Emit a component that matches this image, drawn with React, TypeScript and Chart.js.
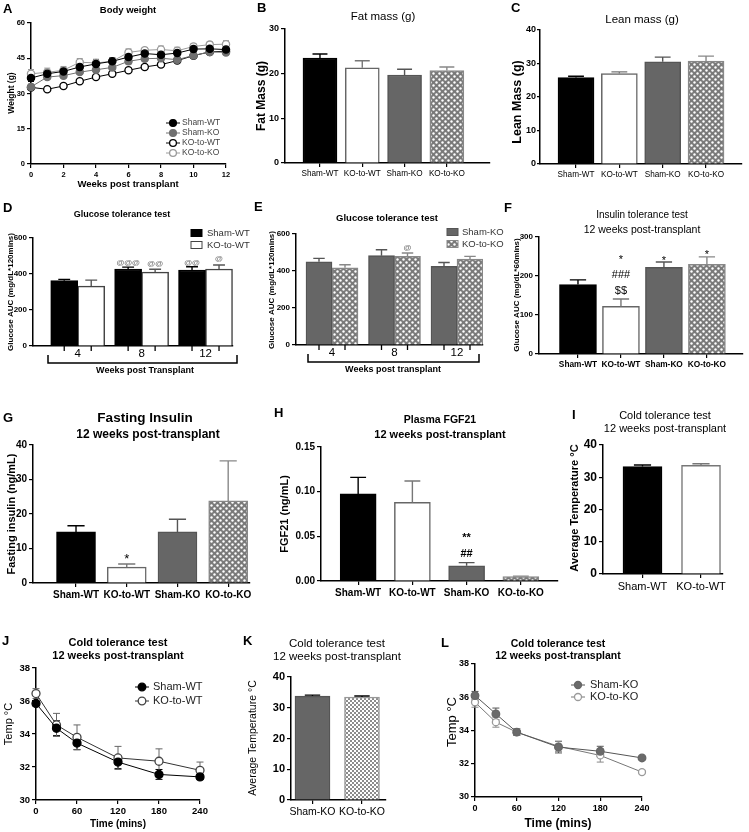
import React, { useEffect, useRef } from "react";
import { Chart, registerables } from "chart.js";

Chart.register(...registerables);

const PW = 749;
const PH = 832;
const SANS = '"Liberation Sans", Arial, Helvetica, sans-serif';
Chart.defaults.font.family = SANS;

// ---------------- data ----------------
const groups4 = ["Sham-WT", "KO-to-WT", "Sham-KO", "KO-to-KO"];
const groupsWT = ["Sham-WT", "KO-to-WT"];
const groupsKO = ["Sham-KO", "KO-to-KO"];

// A  Body weight
const weeks = [0, 1, 2, 3, 4, 5, 6, 7, 8, 9, 10, 11, 12];
const weekTicks = [0, 2, 4, 6, 8, 10, 12];
const weightTicks = [0, 15, 30, 45, 60];
const bwShamWT = [36.6, 38.4, 39.4, 41.3, 42.6, 43.7, 45.5, 47.0, 46.5, 47.2, 48.9, 49.0, 48.7];
const bwShamWTErr = [1.5, 1.4, 1.3, 1.4, 1.8, 1.5, 1.5, 1.4, 1.4, 1.3, 1.2, 1.2, 1.2];
const bwShamKO = [32.8, 37.0, 37.6, 39.1, 40.1, 41.1, 43.7, 44.8, 45.0, 44.4, 46.2, 47.7, 47.5];
const bwShamKOErr = [1.2, 1.0, 1.0, 1.0, 1.0, 1.1, 1.2, 1.1, 1.1, 1.0, 1.0, 1.0, 1.0];
const bwKOtoWT = [32.6, 31.8, 33.2, 35.2, 37.0, 38.4, 39.9, 41.3, 42.3, 44.0, 46.1, 47.7, 48.0];
const bwKOtoWTErr = [0.9, 0.8, 0.8, 0.8, 0.8, 0.8, 0.9, 0.9, 0.9, 0.9, 0.9, 0.9, 0.9];
const bwKOtoKO = [38.4, 39.0, 39.9, 43.3, 43.0, 43.7, 47.5, 48.4, 48.7, 48.2, 50.0, 50.8, 51.0];
const bwKOtoKOErr = [1.8, 1.8, 1.6, 1.6, 1.6, 1.5, 1.5, 1.2, 1.5, 1.5, 1.2, 1.2, 1.5];

// B  Fat mass
const fatTicks = [0, 10, 20, 30];
const fatMass = [23.5, 21.3, 19.7, 20.7];
const fatMassErr = [0.9, 1.6, 1.3, 0.8];

// C  Lean mass
const leanTicks = [0, 10, 20, 30, 40];
const leanMass = [25.8, 27.0, 30.5, 30.7];
const leanMassErr = [0.4, 0.5, 1.4, 1.5];

// D / E  Glucose tolerance test
const gttWeeks = ["4", "8", "12"];
const gttTicks = [0, 200, 400, 600];
const gttShamWT = [363, 428, 422];
const gttShamWTErr = [7, 10, 18];
const gttKOtoWT = [333, 410, 428];
const gttKOtoWTErr = [33, 16, 22];
const gttShamKO = [450, 483, 425];
const gttShamKOErr = [18, 32, 21];
const gttKOtoKO = [417, 479, 464];
const gttKOtoKOErr = [17, 18, 15];

// F  Insulin tolerance test
const ittTicks = [0, 100, 200, 300];
const itt = [178, 122, 222, 230];
const ittErr = [12, 19, 14, 19];

// G  Fasting insulin
const insTicks = [0, 10, 20, 30, 40];
const insulin = [14.8, 4.6, 14.8, 23.8];
const insulinErr = [1.8, 0.9, 3.7, 11.6];

// H  Plasma FGF21
const fgfTicks = [0, 0.05, 0.1, 0.15];
const fgf21 = [0.0975, 0.088, 0.017, 0.005];
const fgf21Err = [0.0185, 0.024, 0.0036, 0.0005];

// I / K  Average temperature
const avgTicks = [0, 10, 20, 30, 40];
const avgTempWT = [33.3, 33.7];
const avgTempWTErr = [0.5, 0.5];
const avgTempKO = [33.8, 33.5];
const avgTempKOErr = [0.3, 0.3];

// J / L  Cold tolerance time course
const ctMins = [0, 30, 60, 120, 180, 240];
const minTicks = [0, 60, 120, 180, 240];
const tempTicks = [30, 32, 34, 36, 38];
const ctShamWT = [35.85, 34.35, 33.45, 32.3, 31.55, 31.4];
const ctShamWTErr = [0.15, 0.45, 0.4, 0.4, 0.3, 0.15];
const ctKOtoWT = [36.45, 34.55, 33.8, 32.55, 32.35, 31.8];
const ctKOtoWTErr = [0.3, 0.7, 0.75, 0.7, 0.75, 0.5];
const ctShamKO = [36.1, 35.0, 33.9, 33.0, 32.75, 32.35];
const ctShamKOErr = [0.25, 0.35, 0.2, 0.35, 0.3, 0.1];
const ctKOtoKO = [35.7, 34.5, 33.9, 33.05, 32.5, 31.5];
const ctKOtoKOErr = [0.3, 0.3, 0.2, 0.3, 0.4, 0.1];

// ---------------- helpers ----------------
type Txt = { t: string; x: number; y: number; s: number; b?: boolean; f?: string; c?: string; r?: boolean; a?: CanvasTextAlign };
type Ann = { ds: number; i: number; t: string; dy: number; s: number; b?: boolean; c?: string };
type Legend = { kind: "line" | "box"; x: number; tx: number; y: number[]; s: number; c: string; r?: number };
type Decor = {
  texts: Txt[];
  anns?: Ann[];
  cap?: number;
  barTicks?: boolean;
  bracket?: { x1: number; x2: number; y: number; h: number };
  legend?: Legend;
};

const fontStr = (s: number, b?: boolean, f?: string) => `${b ? "bold " : ""}${s}px ${f || SANS}`;
const tf = (size: number, bold: boolean, family = SANS) => ({ size, weight: bold ? "bold" : "normal", family });

function makeDecor(d: Decor) {
  return {
    id: "decor",
    beforeDatasetsDraw(chart: any) {
      if (chart.config.type !== "line") return;
      const ctx = chart.ctx;
      const ys = chart.scales.y;
      chart.data.datasets.forEach((ds: any, di: number) => {
        const errs = ds.errors;
        if (!errs) return;
        const meta = chart.getDatasetMeta(di);
        ctx.save();
        ctx.strokeStyle = ds.errColor || ds.borderColor;
        ctx.lineWidth = 1;
        meta.data.forEach((pt: any, j: number) => {
          const v = ds.data[j].y;
          const e = errs[j];
          const y1 = ys.getPixelForValue(v + e);
          const y2 = ys.getPixelForValue(v - e);
          const h = d.cap ?? 3;
          ctx.beginPath();
          ctx.moveTo(pt.x, y1);
          ctx.lineTo(pt.x, y2);
          ctx.moveTo(pt.x - h, y1);
          ctx.lineTo(pt.x + h, y1);
          ctx.moveTo(pt.x - h, y2);
          ctx.lineTo(pt.x + h, y2);
          ctx.stroke();
        });
        ctx.restore();
      });
    },
    afterDatasetsDraw(chart: any) {
      if (chart.config.type !== "bar") return;
      const ctx = chart.ctx;
      const ys = chart.scales.y;
      const area = chart.chartArea;
      chart.data.datasets.forEach((ds: any, di: number) => {
        const meta = chart.getDatasetMeta(di);
        const errs = ds.errors;
        meta.data.forEach((el: any, j: number) => {
          if (errs) {
            const v = ds.data[j].y;
            const top = ys.getPixelForValue(v + errs[j]);
            const col = Array.isArray(ds.errColor) ? ds.errColor[j] : ds.errColor || "#000";
            const h = el.width * 0.22;
            ctx.save();
            ctx.strokeStyle = col;
            ctx.lineWidth = 1.4;
            ctx.beginPath();
            ctx.moveTo(el.x, el.y);
            ctx.lineTo(el.x, top);
            ctx.moveTo(el.x - h, top);
            ctx.lineTo(el.x + h, top);
            ctx.stroke();
            ctx.restore();
          }
          if (d.barTicks) {
            ctx.save();
            ctx.strokeStyle = "#000";
            ctx.lineWidth = 1.3;
            ctx.beginPath();
            ctx.moveTo(el.x, area.bottom);
            ctx.lineTo(el.x, area.bottom + 5);
            ctx.stroke();
            ctx.restore();
          }
        });
      });
    },
    afterDraw(chart: any) {
      const ctx = chart.ctx;
      const ys = chart.scales.y;
      ctx.save();
      d.texts.forEach((t) => {
        ctx.save();
        ctx.font = fontStr(t.s, t.b, t.f);
        ctx.fillStyle = t.c || "#000";
        ctx.textAlign = t.a || "center";
        ctx.textBaseline = "middle";
        if (t.r) {
          ctx.translate(t.x, t.y);
          ctx.rotate(-Math.PI / 2);
          ctx.fillText(t.t, 0, 0);
        } else {
          ctx.fillText(t.t, t.x, t.y);
        }
        ctx.restore();
      });
      (d.anns || []).forEach((a) => {
        const ds: any = chart.data.datasets[a.ds];
        const el: any = chart.getDatasetMeta(a.ds).data[a.i];
        const v = ds.data[a.i].y;
        const e = ds.errors ? ds.errors[a.i] : 0;
        const top = ys.getPixelForValue(v + e);
        ctx.font = fontStr(a.s, a.b);
        ctx.fillStyle = a.c || "#000";
        ctx.textAlign = "center";
        ctx.textBaseline = "alphabetic";
        ctx.fillText(a.t, el.x, top - a.dy);
      });
      if (d.bracket) {
        const b = d.bracket;
        ctx.strokeStyle = "#000";
        ctx.lineWidth = 1.5;
        ctx.beginPath();
        ctx.moveTo(b.x1, b.y - b.h);
        ctx.lineTo(b.x1, b.y);
        ctx.lineTo(b.x2, b.y);
        ctx.lineTo(b.x2, b.y - b.h);
        ctx.stroke();
      }
      if (d.legend) {
        const L = d.legend;
        chart.data.datasets.forEach((ds: any, i: number) => {
          const y = L.y[i];
          if (y === undefined) return;
          if (L.kind === "line") {
            ctx.strokeStyle = ds.borderColor;
            ctx.lineWidth = 1;
            ctx.beginPath();
            ctx.moveTo(L.x - 7, y);
            ctx.lineTo(L.x + 7, y);
            ctx.stroke();
            ctx.beginPath();
            ctx.arc(L.x, y, L.r || 3.5, 0, Math.PI * 2);
            ctx.fillStyle = ds.pointBackgroundColor;
            ctx.fill();
            ctx.strokeStyle = ds.pointBorderColor;
            ctx.lineWidth = 1.3;
            ctx.stroke();
          } else {
            const bg = Array.isArray(ds.backgroundColor) ? ds.backgroundColor[0] : ds.backgroundColor;
            const bc = Array.isArray(ds.borderColor) ? ds.borderColor[0] : ds.borderColor;
            ctx.fillStyle = bg;
            ctx.fillRect(L.x, y - 3.5, 11, 7);
            ctx.strokeStyle = bc;
            ctx.lineWidth = 1;
            ctx.strokeRect(L.x, y - 3.5, 11, 7);
          }
          ctx.font = fontStr(L.s);
          ctx.fillStyle = L.c;
          ctx.textAlign = "left";
          ctx.textBaseline = "middle";
          ctx.fillText(ds.label, L.tx, y);
        });
      }
      ctx.restore();
    },
  };
}

function yAx(ticks: number[], size: number, bold = true, fam = SANS, fmt?: (v: number) => string, tickLength = 4, pad = 2) {
  return {
    type: "linear",
    position: "left",
    min: ticks[0],
    max: ticks[ticks.length - 1],
    afterBuildTicks: (s: any) => {
      s.ticks = ticks.map((v) => ({ value: v }));
    },
    ticks: {
      font: tf(size, bold, fam),
      color: "#000",
      padding: pad,
      autoSkip: false,
      callback: (v: any) => (fmt ? fmt(Number(v)) : String(v)),
    },
    grid: { drawOnChartArea: false, drawTicks: true, tickLength, color: "#000", lineWidth: 1.2 },
    border: { display: true, color: "#000", width: 1.5 },
  };
}

function xNum(ticks: number[], size: number, bold = true) {
  return {
    type: "linear",
    position: "bottom",
    min: ticks[0],
    max: ticks[ticks.length - 1],
    offset: false,
    afterBuildTicks: (s: any) => {
      s.ticks = ticks.map((v) => ({ value: v }));
    },
    ticks: { font: tf(size, bold), color: "#000", padding: 2, autoSkip: false, maxRotation: 0, minRotation: 0 },
    grid: { drawOnChartArea: false, drawTicks: true, tickLength: 4, color: "#000", lineWidth: 1.2, offset: false },
    border: { display: true, color: "#000", width: 1.5 },
  };
}

function xCat(
  labels: string[],
  min: number,
  max: number,
  size: number,
  bold: boolean,
  fam = SANS,
  tickColor = "#000",
  tickLength = 4,
  pad = 2
) {
  return {
    type: "linear",
    position: "bottom",
    min,
    max,
    offset: false,
    afterBuildTicks: (s: any) => {
      s.ticks = labels.map((_, i) => ({ value: i + 1 }));
    },
    ticks: {
      font: tf(size, bold, fam),
      color: "#000",
      padding: pad,
      autoSkip: false,
      maxRotation: 0,
      minRotation: 0,
      callback: (v: any) => labels[Math.round(Number(v)) - 1] ?? "",
    },
    grid: { drawOnChartArea: false, drawTicks: true, tickLength, color: tickColor, lineWidth: 1.2, offset: false },
    border: { display: true, color: "#000", width: 1.5 },
  };
}

// area = [left, top, right, bottom] of the plot box on the page
function opts(area: number[], x: any, y: any) {
  const [L, T, R, B] = area;
  x.afterFit = (s: any) => {
    s.height = PH - B;
  };
  y.afterFit = (s: any) => {
    s.width = L;
  };
  return {
    responsive: false,
    maintainAspectRatio: false,
    animation: false,
    events: [],
    layout: { padding: { left: 0, top: T, right: PW - R, bottom: 0 } },
    plugins: { legend: { display: false }, tooltip: { enabled: false }, title: { display: false } },
    scales: { x, y },
  };
}

function lineDs(label: string, xs: number[], ys: number[], errs: number[], color: string, fill: string, pborder: string, r: number, errColor?: string) {
  return {
    label,
    data: xs.map((x, i) => ({ x, y: ys[i] })),
    borderColor: color,
    borderWidth: 1,
    pointRadius: r,
    pointBackgroundColor: fill,
    pointBorderColor: pborder,
    pointBorderWidth: 1.3,
    tension: 0,
    clip: false,
    errors: errs,
    errColor: errColor || color,
  };
}

function barDs(label: string, cats: string[], vals: number[], errs: number[], bg: any, border: any, errColor: any, thickness: number) {
  return {
    label,
    data: cats.map((_, i) => ({ x: i + 1, y: vals[i] })),
    backgroundColor: bg,
    borderColor: border,
    borderWidth: 1.5,
    barThickness: thickness,
    errors: errs,
    errColor,
  };
}

function dotPattern(bg: string, dot: string) {
  const c = document.createElement("canvas");
  c.width = 6;
  c.height = 6;
  const g = c.getContext("2d")!;
  g.fillStyle = bg;
  g.fillRect(0, 0, 6, 6);
  g.fillStyle = dot;
  [
    [1.5, 1.5],
    [4.5, 4.5],
  ].forEach(([x, y]) => {
    g.beginPath();
    g.arc(x, y, 1.2, 0, Math.PI * 2);
    g.fill();
  });
  return g.createPattern(c, "repeat")!;
}

function checkPattern(a: string, b: string) {
  const c = document.createElement("canvas");
  c.width = 4;
  c.height = 4;
  const g = c.getContext("2d")!;
  g.fillStyle = a;
  g.fillRect(0, 0, 4, 4);
  g.fillStyle = b;
  g.fillRect(0, 0, 2, 2);
  g.fillRect(2, 2, 2, 2);
  return g.createPattern(c, "repeat")!;
}

const letter = (t: string, x: number, y: number): Txt => ({ t, x, y, s: 13, b: true, a: "left" });

function buildConfigs(dots: any, checks: any): any[] {
  const bg4 = ["#000", "#fff", "#666", dots];
  const bd4 = ["#000", "#666", "#555", "#888"];
  const er4 = ["#000", "#777", "#555", "#888"];

  const A = {
    type: "line",
    data: {
      datasets: [
        lineDs("Sham-WT", weeks, bwShamWT, bwShamWTErr, "#000", "#000", "#000", 3.6),
        lineDs("Sham-KO", weeks, bwShamKO, bwShamKOErr, "#707070", "#707070", "#707070", 3.6),
        lineDs("KO-to-WT", weeks, bwKOtoWT, bwKOtoWTErr, "#000", "#fff", "#000", 3.6),
        lineDs("KO-to-KO", weeks, bwKOtoKO, bwKOtoKOErr, "#9a9a9a", "#fff", "#9a9a9a", 3.6),
      ],
    },
    options: opts([31, 23, 226, 164], xNum(weekTicks, 7.5), yAx(weightTicks, 7.5)),
    plugins: [
      makeDecor({
        cap: 3,
        texts: [
          letter("A", 3, 9),
          { t: "Body weight", x: 128, y: 10, s: 9.5, b: true },
          { t: "Weight (g)", x: 12, y: 93, s: 8.5, b: true, r: true },
          { t: "Weeks post transplant", x: 128, y: 184, s: 9.5, b: true },
        ],
        legend: { kind: "line", x: 173, tx: 182, y: [123, 133, 143, 153], s: 8.5, c: "#444", r: 3.4 },
      }),
    ],
  };

  const B = {
    type: "bar",
    data: { datasets: [barDs("Fat mass", groups4, fatMass, fatMassErr, bg4, bd4, er4, 34)] },
    options: opts([285, 29, 490, 163], xCat(groups4, 0.173, 5.02, 8.2, false), yAx(fatTicks, 9, true)),
    plugins: [
      makeDecor({
        texts: [
          letter("B", 257, 8),
          { t: "Fat mass (g)", x: 383, y: 17, s: 11.5 },
          { t: "Fat Mass (g)", x: 262, y: 96, s: 12, b: true, r: true },
        ],
      }),
    ],
  };

  const C = {
    type: "bar",
    data: { datasets: [barDs("Lean mass", groups4, leanMass, leanMassErr, bg4, bd4, er4, 36)] },
    options: opts([540, 30, 742, 164], xCat(groups4, 0.169, 4.83, 8.2, false), yAx(leanTicks, 9, true, SANS, undefined, 3, 1)),
    plugins: [
      makeDecor({
        texts: [
          letter("C", 511, 8),
          { t: "Lean mass (g)", x: 642, y: 20, s: 11.5 },
          { t: "Lean Mass (g)", x: 518, y: 102, s: 12.5, b: true, r: true },
        ],
      }),
    ],
  };

  const D = {
    type: "bar",
    data: {
      datasets: [
        barDs("Sham-WT", gttWeeks, gttShamWT, gttShamWTErr, "#000", "#000", "#000", 27),
        barDs("KO-to-WT", gttWeeks, gttKOtoWT, gttKOtoWTErr, "#fff", "#444", "#555", 27),
      ],
    },
    options: opts([33, 238, 233, 346], xCat(gttWeeks, 0.3, 3.43, 11.5, false, SANS, "rgba(0,0,0,0)", 1, 0), yAx(gttTicks, 8)),
    plugins: [
      makeDecor({
        barTicks: true,
        texts: [
          letter("D", 3, 208),
          { t: "Glucose tolerance test", x: 122, y: 215, s: 9, b: true },
          { t: "Glucose AUC (mg/dL*120mins)", x: 11, y: 292, s: 8, b: true, r: true },
          { t: "Weeks post Transplant", x: 145, y: 371, s: 9, b: true },
        ],
        anns: [
          { ds: 0, i: 1, t: "@@@", dy: 2, s: 8, b: true, c: "#777" },
          { ds: 1, i: 1, t: "@@", dy: 3, s: 8, b: true, c: "#777" },
          { ds: 0, i: 2, t: "@@", dy: 2, s: 8, b: true, c: "#777" },
          { ds: 1, i: 2, t: "@", dy: 4, s: 8, b: true, c: "#777" },
        ],
        bracket: { x1: 48, x2: 237, y: 363, h: 8 },
        legend: { kind: "box", x: 191, tx: 207, y: [233, 245], s: 9.5, c: "#333" },
      }),
    ],
  };

  const E = {
    type: "bar",
    data: {
      datasets: [
        barDs("Sham-KO", gttWeeks, gttShamKO, gttShamKOErr, "#666", "#555", "#555", 26),
        barDs("KO-to-KO", gttWeeks, gttKOtoKO, gttKOtoKOErr, dots, "#888", "#888", 26),
      ],
    },
    options: opts([296, 234, 483, 345], xCat(gttWeeks, 0.424, 3.416, 11.5, false, SANS, "rgba(0,0,0,0)", 1, 0), yAx(gttTicks, 8)),
    plugins: [
      makeDecor({
        barTicks: true,
        texts: [
          letter("E", 254, 207),
          { t: "Glucose tolerance test", x: 387, y: 218, s: 9.5, b: true },
          { t: "Glucose AUC (mg/dL*120mins)", x: 272, y: 290, s: 8, b: true, r: true },
          { t: "Weeks post transplant", x: 393, y: 370, s: 9, b: true },
        ],
        anns: [{ ds: 1, i: 1, t: "@", dy: 3, s: 8, b: true, c: "#777" }],
        bracket: { x1: 308, x2: 479, y: 362, h: 8 },
        legend: { kind: "box", x: 447, tx: 462, y: [232, 244], s: 9.5, c: "#333" },
      }),
    ],
  };

  const F = {
    type: "bar",
    data: { datasets: [barDs("ITT", groups4, itt, ittErr, bg4, bd4, er4, 37)] },
    options: opts([539, 237, 743, 354], xCat(groups4, 0.093, 4.84, 8.3, true), yAx(ittTicks, 8)),
    plugins: [
      makeDecor({
        texts: [
          letter("F", 504, 208),
          { t: "Insulin tolerance test", x: 642, y: 215, s: 10 },
          { t: "12 weeks post-transplant", x: 642, y: 230, s: 10.5 },
          { t: "Glucose AUC (mg/dL*60mins)", x: 517, y: 295, s: 8, b: true, r: true },
        ],
        anns: [
          { ds: 0, i: 1, t: "$$", dy: 5, s: 11 },
          { ds: 0, i: 1, t: "###", dy: 21, s: 11 },
          { ds: 0, i: 1, t: "*", dy: 36, s: 11 },
          { ds: 0, i: 2, t: "*", dy: -2, s: 11 },
          { ds: 0, i: 3, t: "*", dy: -1, s: 11 },
        ],
      }),
    ],
  };

  const G = {
    type: "bar",
    data: { datasets: [barDs("Insulin", groups4, insulin, insulinErr, bg4, bd4, er4, 39)] },
    options: opts([33, 445, 250, 583], xCat(groups4, 0.152, 4.43, 10, true), yAx(insTicks, 10)),
    plugins: [
      makeDecor({
        texts: [
          letter("G", 3, 418),
          { t: "Fasting Insulin", x: 145, y: 418, s: 13.5, b: true },
          { t: "12 weeks post-transplant", x: 148, y: 435, s: 12, b: true },
          { t: "Fasting insulin (ng/mL)", x: 12, y: 514, s: 11, b: true, r: true },
        ],
        anns: [{ ds: 0, i: 1, t: "*", dy: 1.5, s: 13 }],
      }),
    ],
  };

  const H = {
    type: "bar",
    data: { datasets: [barDs("FGF21", groups4, fgf21, fgf21Err, bg4, bd4, er4, 36)] },
    options: opts([321, 447, 558, 581], xCat(groups4, 0.315, 4.685, 10, true), yAx(fgfTicks, 10, true, SANS, (v) => v.toFixed(2))),
    plugins: [
      makeDecor({
        texts: [
          letter("H", 274, 413),
          { t: "Plasma FGF21", x: 440, y: 420, s: 10.5, b: true },
          { t: "12 weeks post-transplant", x: 440, y: 435, s: 11, b: true },
          { t: "FGF21 (ng/mL)", x: 285, y: 514, s: 11, b: true, r: true },
        ],
        anns: [
          { ds: 0, i: 2, t: "##", dy: 6, s: 11, b: true },
          { ds: 0, i: 2, t: "**", dy: 22, s: 11, b: true },
        ],
      }),
    ],
  };

  const I = {
    type: "bar",
    data: { datasets: [barDs("Avg temp WT", groupsWT, avgTempWT, avgTempWTErr, ["#000", "#fff"], ["#000", "#777"], ["#000", "#777"], 39)] },
    options: opts([603, 445, 723, 574], xCat(groupsWT, 0.325, 2.376, 11, false), yAx(avgTicks, 12)),
    plugins: [
      makeDecor({
        texts: [
          letter("I", 572, 415),
          { t: "Cold tolerance test", x: 665, y: 416, s: 11 },
          { t: "12 weeks post-transplant", x: 665, y: 429, s: 11 },
          { t: "Average Temperature °C", x: 575, y: 508, s: 11, b: true, r: true },
        ],
      }),
    ],
  };

  const J = {
    type: "line",
    data: {
      datasets: [
        lineDs("Sham-WT", ctMins, ctShamWT, ctShamWTErr, "#000", "#000", "#000", 4),
        lineDs("KO-to-WT", ctMins, ctKOtoWT, ctKOtoWTErr, "#333", "#fff", "#444", 4, "#666"),
      ],
    },
    options: opts([36, 668, 200, 800], xNum(minTicks, 9.5), yAx(tempTicks, 9.5)),
    plugins: [
      makeDecor({
        cap: 3.5,
        texts: [
          letter("J", 2, 641),
          { t: "Cold tolerance test", x: 118, y: 643, s: 11, b: true },
          { t: "12 weeks post-transplant", x: 118, y: 656, s: 11, b: true },
          { t: "Temp °C", x: 9, y: 724, s: 11, r: true },
          { t: "Time (mins)", x: 118, y: 824, s: 10, b: true },
        ],
        legend: { kind: "line", x: 142, tx: 153, y: [687, 701], s: 11, c: "#222", r: 3.8 },
      }),
    ],
  };

  const K = {
    type: "bar",
    data: { datasets: [barDs("Avg temp KO", groupsKO, avgTempKO, avgTempKOErr, ["#666", checks], ["#555", "#999"], ["#000", "#000"], 35)] },
    options: opts([291, 677, 386, 800], xCat(groupsKO, 0.566, 2.485, 10.5, false), yAx(avgTicks, 11)),
    plugins: [
      makeDecor({
        texts: [
          letter("K", 243, 641),
          { t: "Cold tolerance test", x: 337, y: 644, s: 11.5 },
          { t: "12 weeks post-transplant", x: 337, y: 657, s: 11.5 },
          { t: "Average Temperature °C", x: 253, y: 738, s: 10.5, r: true },
        ],
      }),
    ],
  };

  const Lc = {
    type: "line",
    data: {
      datasets: [
        lineDs("Sham-KO", ctMins, ctShamKO, ctShamKOErr, "#555", "#6a6a6a", "#666", 3.8),
        lineDs("KO-to-KO", ctMins, ctKOtoKO, ctKOtoKOErr, "#777", "#fff", "#9a9a9a", 3.5, "#888"),
      ],
    },
    options: opts([475, 664, 642, 797], xNum(minTicks, 9), yAx(tempTicks, 9)),
    plugins: [
      makeDecor({
        cap: 3.5,
        texts: [
          letter("L", 441, 643),
          { t: "Cold tolerance test", x: 558, y: 644, s: 10.5, b: true },
          { t: "12 weeks post-transplant", x: 558, y: 656, s: 10.5, b: true },
          { t: "Temp °C", x: 452, y: 722, s: 13, r: true },
          { t: "Time (mins)", x: 558, y: 824, s: 12, b: true },
        ],
        legend: { kind: "line", x: 578, tx: 590, y: [685, 697], s: 11, c: "#222", r: 3.5 },
      }),
    ],
  };

  return [A, B, C, D, E, F, G, H, I, J, K, Lc];
}

export default function App() {
  const refs = useRef<(HTMLCanvasElement | null)[]>([]);
  useEffect(() => {
    const dots = dotPattern("#7a7a7a", "#ffffff");
    const checks = checkPattern("#8c8c8c", "#ffffff");
    const cfgs = buildConfigs(dots, checks);
    const charts = cfgs.map((cfg, i) => new Chart(refs.current[i] as HTMLCanvasElement, cfg));
    return () => charts.forEach((c) => c.destroy());
  }, []);
  return (
    <div style={{ position: "absolute", left: 0, top: 0, width: PW, height: PH, background: "#fff", overflow: "hidden" }}>
      {Array.from({ length: 12 }).map((_, i) => (
        <canvas
          key={i}
          ref={(el) => {
            refs.current[i] = el;
          }}
          width={PW}
          height={PH}
          style={{ position: "absolute", left: 0, top: 0, width: PW, height: PH }}
        />
      ))}
    </div>
  );
}
